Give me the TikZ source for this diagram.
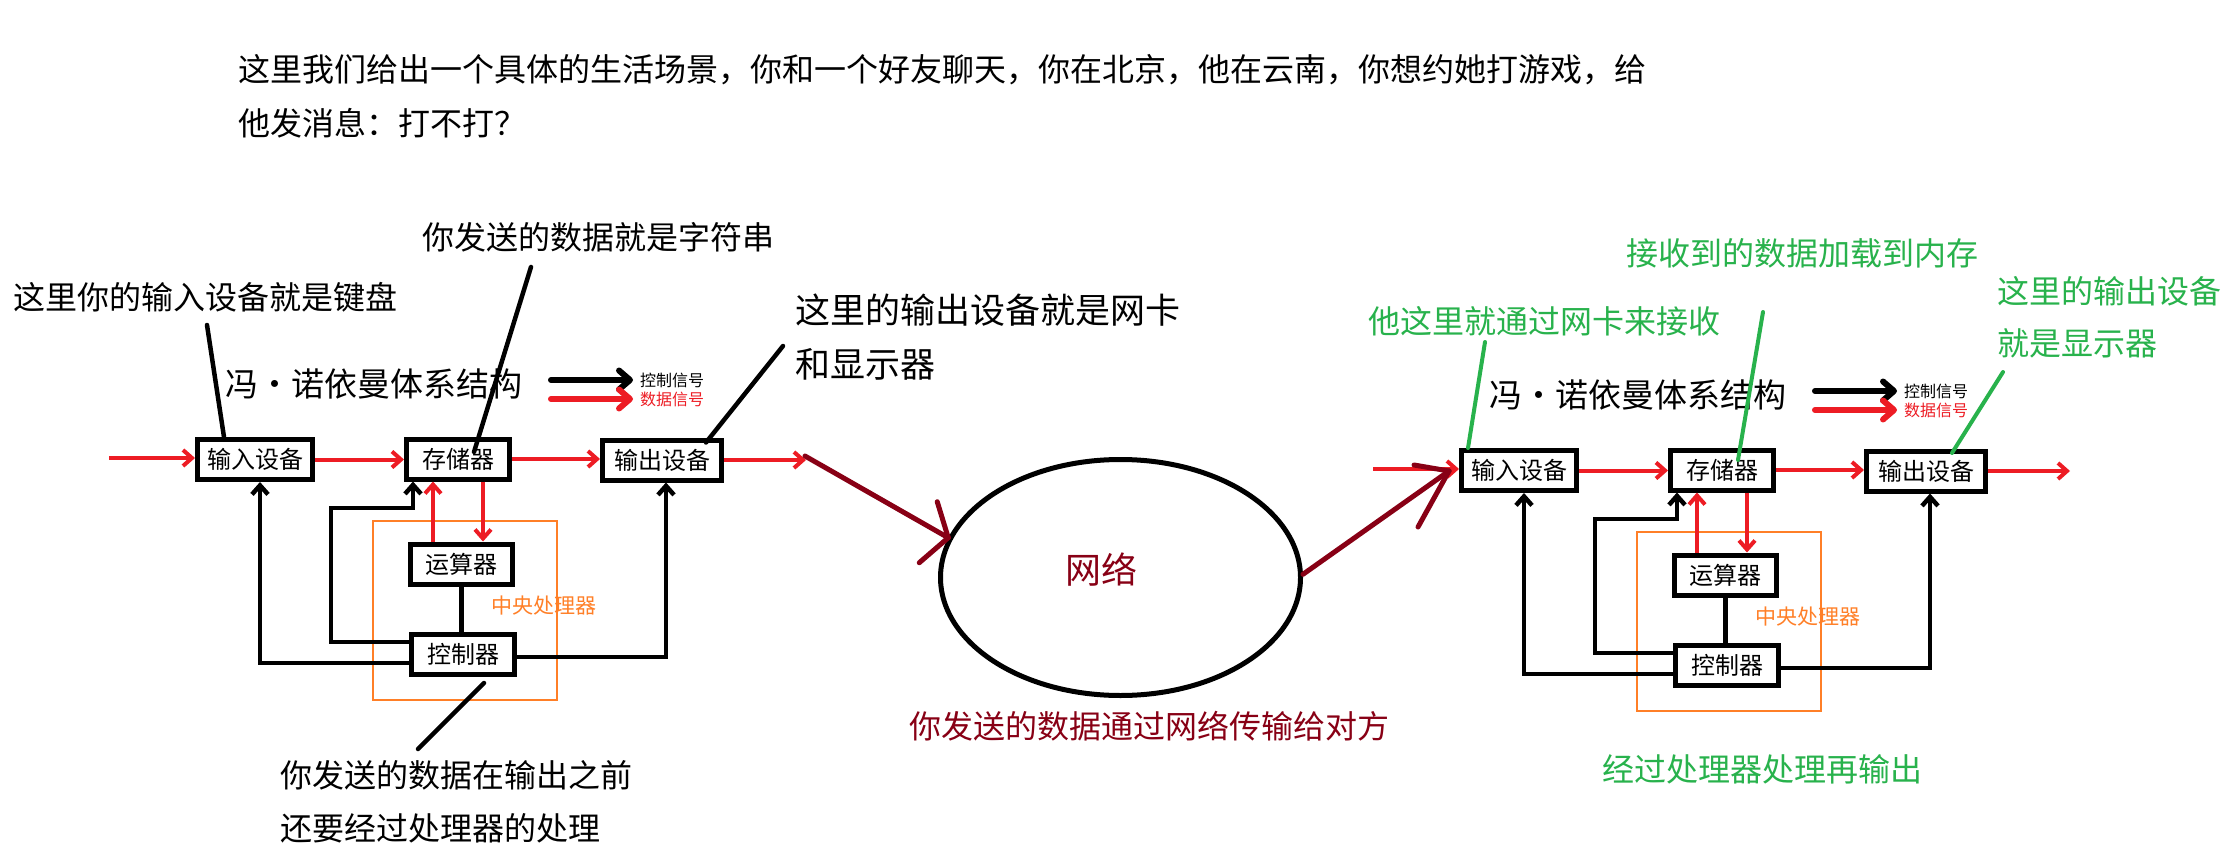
\documentclass[tikz,border=0pt]{standalone}
\usepackage{fontspec}
\setmainfont{Noto Sans CJK SC}
\usetikzlibrary{arrows.meta,shapes.geometric,calc}
\definecolor{myred}{RGB}{237,28,36}
\definecolor{dred}{RGB}{136,0,21}
\definecolor{mygreen}{RGB}{40,178,76}
\definecolor{myorange}{RGB}{255,127,39}
\newcommand\fsz[1]{\fontsize{#1}{#1}\selectfont}
\tikzset{
  box/.style={draw=black, line width=5pt, inner sep=0pt, minimum height=40pt, font=\fsz{24}},
  redarr/.style={draw=myred, line width=4pt, -{Straight Barb[length=9pt,width=16pt]}},
  blkarr/.style={draw=black, line width=4.5pt, -{Straight Barb[length=9pt,width=16pt]}},
  blkline/.style={draw=black, line width=4.5pt},
  orbox/.style={draw=myorange, line width=2.5pt},
  note/.style={inner sep=0pt, anchor=west, font=\fsz{32}},
  gnote/.style={note, text=mygreen},
  ann/.style={draw=black, line width=4.5pt, line cap=round},
  gann/.style={draw=mygreen, line width=4pt, line cap=round},
  dline/.style={draw=dred, line width=5pt, line cap=round},
  legtxt/.style={inner sep=0pt, anchor=west, font=\fsz{16}},
  legarr/.style={line width=6pt, line cap=round, -{Straight Barb[length=11pt,width=19pt,round]}},
}
\newcommand\vnblock[3]{%
\begin{scope}[shift={(#2,#3)}]
  \draw[orbox] (373,521) rectangle (557,700);
  \node[box, minimum width=115pt] (#1in) at (255,459.5) {输入设备};
  \node[box, minimum width=103pt] (#1mem) at (458,459) {存储器};
  \node[box, minimum width=119pt] (#1out) at (662,460) {输出设备};
  \node[box, minimum width=102pt] (#1alu) at (461.5,564) {运算器};
  \node[box, minimum width=103pt] (#1ctl) at (463,654.5) {控制器};
  \node[inner sep=0pt, anchor=west, text=myorange, font=\fsz{21}] (#1cpu) at (491,606) {中央处理器};
  \node[inner sep=0pt, font=\fsz{33}] (#1title) at (373.5,384) {冯・诺依曼体系结构};
  \coordinate (#1ka) at (551,380);
  \coordinate (#1kb) at (551,399);
  \node[legtxt] (#1kl) at (640,380) {控制信号};
  \node[legtxt, text=myred] (#1dl) at (640,399) {数据信号};
  \draw[legarr, draw=black] (#1ka) -- ([xshift=-7pt]#1ka -| #1kl.west);
  \draw[legarr, draw=myred] (#1kb) -- ([xshift=-7pt]#1kb -| #1dl.west);
  \coordinate (#1src) at (109,458);
  \coordinate (#1dst) at (806,460);
  \coordinate (#1bend) at (331,508);
  \draw[redarr] (#1src) -- (#1src -| #1in.west);
  \draw[redarr] (#1in.east) -- (#1in.east -| #1mem.west);
  \draw[redarr] (#1mem.east) -- (#1mem.east -| #1out.west);
  \draw[redarr] (#1out.east) -- (#1out.east -| #1dst);
  \draw[redarr] ([xshift=-28.5pt]#1alu.north) -- ([xshift=-28.5pt]#1alu.north |- #1mem.south);
  \draw[redarr] ([xshift=25pt]#1mem.south) -- ([xshift=25pt]#1mem.south |- #1alu.north);
  \draw[blkline] (#1alu.south) -- (#1alu.south |- #1ctl.north);
  \draw[blkarr] ([yshift=-8.5pt]#1ctl.west) -| ([xshift=5pt]#1in.south);
  \draw[blkarr] ([yshift=-2.5pt]#1ctl.east) -| ([xshift=4pt]#1out.south);
  \draw[blkarr] ([yshift=12.5pt]#1ctl.west) -| (#1bend) -| ([xshift=-45pt]#1mem.south);
\end{scope}}
\begin{document}
\begin{tikzpicture}[x=1pt,y=-1pt]
\useasboundingbox[fill=white] (0,0) rectangle (2238,851);
% top text
\node[note] (t1) at (238,70) {这里我们给出一个具体的生活场景，你和一个好友聊天，你在北京，他在云南，你想约她打游戏，给};
\node[note] (t2) at (238,123) {他发消息：打不打？};
% two diagrams
\vnblock{L}{0}{0}
\vnblock{R}{1264}{11}
% left annotations
\node[note] (a1) at (13,297) {这里你的输入设备就是键盘};
\node[note] (a2) at (422,237) {你发送的数据就是字符串};
\node[note, font=\fsz{35}] (a3) at (795,310) {这里的输出设备就是网卡};
\node[note, font=\fsz{35}] (a3b) at (795,364) {和显示器};
\node[note] (a4) at (280,775) {你发送的数据在输出之前};
\node[note] (a4b) at (280,828) {还要经过处理器的处理};
\coordinate (k1) at (207,325);
\coordinate (k2) at (531,267);
\coordinate (k3) at (783,346);
\coordinate (k4) at (418,749);
\draw[ann] (k1) -- ([xshift=-31pt]Lin.north);
\draw[ann] (k2) -- ([xshift=16pt,yshift=7pt]Lmem.center);
\draw[ann] (k3) -- ([xshift=44pt,yshift=-5pt]Lout.north);
\draw[ann] ([xshift=21pt,yshift=-6pt]Lctl.south) -- (k4);
% network
\node[ellipse, draw=black, line width=5pt, inner sep=0pt, minimum width=360pt, minimum height=236pt] (net) at (1120.5,577.5) {};
\node[inner sep=0pt, text=dred, font=\fsz{36}] (netl) at (1101,570) {网络};
\node[note, text=dred] (cap) at (909,726) {你发送的数据通过网络传输给对方};
\coordinate (d1) at (805,456);
\coordinate (d2) at (1449,471);
\draw[dline] (d1) -- (net.167.8);
\draw[dline] (net.167.8) -- ++(-11,-36);
\draw[dline] (net.167.8) -- ++(-29,25);
\draw[dline] (net.1.4) -- (d2);
\draw[dline] (d2) -- ++(-35,-6);
\draw[dline] (d2) -- ++(-31,56);
% right annotations
\node[gnote] (g1) at (1368,321) {他这里就通过网卡来接收};
\node[gnote] (g2) at (1626,253) {接收到的数据加载到内存};
\node[gnote] (g3) at (1997,291) {这里的输出设备};
\node[gnote] (g3b) at (1997,343) {就是显示器};
\node[gnote] (g4) at (1602,769) {经过处理器处理再输出};
\coordinate (m1) at (1485,342);
\coordinate (m2) at (1763,312);
\coordinate (m3) at (2003,372);
\draw[gann] (m1) -- ([xshift=-51pt]Rin.north);
\draw[gann] (m2) -- ([xshift=16pt,yshift=10pt]Rmem.center);
\draw[gann] (m3) -- ([xshift=26pt,yshift=-4.5pt]Rout.north);
\end{tikzpicture}
\end{document}
